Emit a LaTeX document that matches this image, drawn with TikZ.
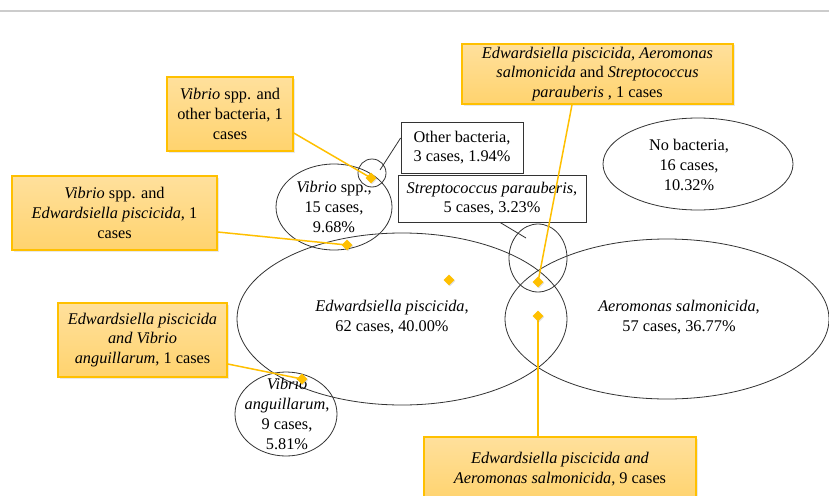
\documentclass[tikz,border=0pt]{standalone}
\usepackage{fontspec}
\setmainfont{Liberation Serif}
\usetikzlibrary{shapes.geometric,shadows,calc}
\definecolor{gold}{HTML}{FFC000}
\definecolor{ctop}{HTML}{FFE09C}
\definecolor{cbot}{HTML}{FFD36E}
\definecolor{ink}{HTML}{333333}
\begin{document}
\begin{tikzpicture}[x=1pt,y=-1pt,
  font=\fontsize{16.3}{19.8}\selectfont,
  venn/.style={ellipse, draw=ink, line width=0.8pt, inner sep=0pt},
  lbl/.style={align=center, inner sep=0pt, text=black},
  tagbox/.style={rectangle, draw=ink, line width=0.8pt, fill=white, align=center, inner sep=0pt},
  callout/.style={rectangle, draw=gold, line width=1.5pt, top color=ctop, bottom color=cbot,
    align=center, inner sep=0pt, drop shadow={opacity=0.18, shadow xshift=1.5pt, shadow yshift=-1.5pt}},
  dot/.style={diamond, fill=gold, inner sep=0pt, minimum width=11pt, minimum height=11pt,
    drop shadow={opacity=0.25, shadow xshift=0.8pt, shadow yshift=-0.8pt}},
  leader/.style={draw=gold, line width=1.5pt},
  thinline/.style={draw=ink, line width=0.8pt}]
\clip (0,0) rectangle (829,495);
\fill[white] (0,0) rectangle (829,495);
\draw[gray!40, line width=1.5pt] (0,11) -- (829,11);

% Venn ellipses
\node[venn, minimum width=330pt, minimum height=172pt] (ep) at (402,319) {};
\node[venn, minimum width=324pt, minimum height=160pt] (ea) at (667,319) {};
\node[venn, minimum width=58pt, minimum height=68pt] (es) at (538,258) {};
\node[venn, minimum width=116pt, minimum height=86pt] (ev) at (334,207) {};
\node[venn, minimum width=102pt, minimum height=84pt] (eva) at (286,414) {};
\node[venn, minimum width=28pt, minimum height=28pt] (eo) at (372,173) {};
\node[venn, minimum width=190pt, minimum height=92pt] (en) at (698,164) {};

% Labels inside ellipses
\node[lbl] (tep) at (392,317) {\textit{Edwardsiella piscicida},\\62 cases, 40.00\%};
\node[lbl] (tea) at (679,317) {\textit{Aeromonas salmonicida},\\57 cases, 36.77\%};
\node[lbl] (tev) at (334,207) {\textit{Vibrio} spp.,\\15 cases,\\9.68\%};
\node[lbl] (teva) at (287,414) {\textit{Vibrio}\\\textit{anguillarum},\\9 cases,\\5.81\%};
\node[lbl] (ten) at (689,165) {No bacteria,\\16 cases,\\10.32\%};

% Tag boxes
\node[tagbox, minimum width=122pt, minimum height=51pt] (obox) at (462,147.5) {Other bacteria,\\3 cases, 1.94\%};
\node[tagbox, minimum width=188pt, minimum height=47pt] (sbox) at (492,198.5) {\textit{Streptococcus parauberis},\\5 cases, 3.23\%};
\coordinate (oc) at (380,170);
\coordinate (sc) at (526,238);
\draw[thinline] ([yshift=9.5pt]obox.west) -- (oc);
\draw[thinline] ([xshift=8pt]sbox.south) -- (sc);

% Callouts
\node[callout, minimum width=126pt, minimum height=74pt] (c1) at (230,114)
  {\textit{Vibrio} spp. and\\other bacteria, 1\\cases};
\node[callout, minimum width=205pt, minimum height=74pt] (c2) at (114.5,213)
  {\textit{Vibrio} spp. and\\\textit{Edwardsiella piscicida}, 1\\cases};
\node[callout, minimum width=169pt, minimum height=74pt] (c3) at (142.5,340)
  {\textit{Edwardsiella piscicida}\\\textit{and Vibrio}\\\textit{anguillarum}, 1 cases};
\node[callout, minimum width=271pt, minimum height=60pt] (c4) at (597.5,74)
  {\textit{Edwardsiella piscicida, Aeromonas}\\\textit{salmonicida} and \textit{Streptococcus}\\\textit{parauberis} , 1 cases};
\node[callout, minimum width=272pt, minimum height=64pt] (c5) at (560,469)
  {\textit{Edwardsiella piscicida and}\\\textit{Aeromonas salmonicida}, 9 cases};

% Markers
\coordinate (p1) at (371,178);
\coordinate (p2) at (347,245);
\coordinate (p3) at (302,379);
\coordinate (p4) at (538,282);
\coordinate (p5) at (538,316);
\draw[leader] ([yshift=-19pt]c1.east) -- (p1);
\draw[leader] ([yshift=-19pt]c2.east) -- (p2);
\draw[leader] ([yshift=-24pt]c3.east) -- (p3);
\draw[leader] ([xshift=-25.5pt]c4.south) -- (p4);
\draw[leader] ([xshift=-22pt]c5.north) -- (p5);
\node[dot] (d1) at (p1) {};
\node[dot] (d2) at (p2) {};
\node[dot] (d3) at (p3) {};
\node[dot] (d4) at (p4) {};
\node[dot] (d5) at (p5) {};
\node[dot] (d6) at (449,280) {};
\end{tikzpicture}
\end{document}
